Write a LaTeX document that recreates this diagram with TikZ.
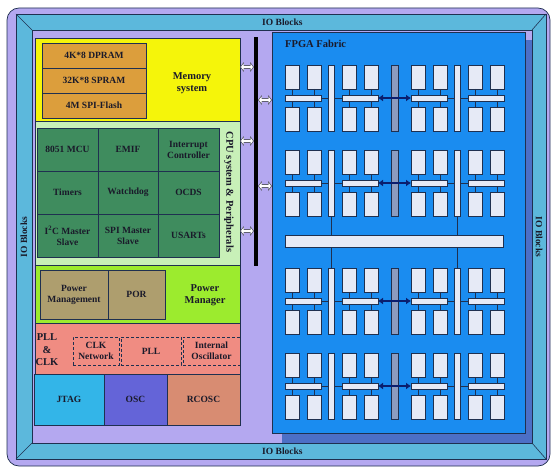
\documentclass[tikz,border=0pt]{standalone}
\usepackage{fontspec}
\setmainfont{Liberation Serif}
\usetikzlibrary{arrows.meta}

\definecolor{lilac}{HTML}{B4A8F0}
\definecolor{band}{HTML}{5CB8DC}
\definecolor{edge}{HTML}{1F3050}
\definecolor{txt}{HTML}{1A1A2A}
\definecolor{yel}{HTML}{F5F50A}
\definecolor{orng}{HTML}{DC9E3C}
\definecolor{ltgrn}{HTML}{C8F0B8}
\definecolor{dkgrn}{HTML}{3F8C5E}
\definecolor{pgrn}{HTML}{9CEB2E}
\definecolor{brwn}{HTML}{AE9E6E}
\definecolor{pinkc}{HTML}{F08C82}
\definecolor{jtagc}{HTML}{33B5E8}
\definecolor{oscc}{HTML}{6464D8}
\definecolor{rcc}{HTML}{D88C72}
\definecolor{fabc}{HTML}{1A8CF0}
\definecolor{fabshadow}{HTML}{4C6FC6}
\definecolor{tilec}{HTML}{E6EAF6}
\definecolor{greybar}{HTML}{8C9CC0}
\definecolor{navy}{HTML}{0A1E6E}
\definecolor{arrgrey}{HTML}{606070}

\newcommand\lblfont{\fontsize{9.5}{11}\selectfont\bfseries}
\newcommand\hdfont{\fontsize{10.5}{12.5}\selectfont\bfseries}

\tikzset{
	sz/.style 2 args={minimum width=#1pt, minimum height=#2pt},
	blk/.style={draw=edge, line width=0.6pt, inner sep=1pt, outer sep=0pt, anchor=north west, align=center, text=txt, font=\lblfont},
	dashbox/.style={blk, dash pattern=on 3pt off 2pt, line width=0.8pt},
	tile/.style={draw=edge, line width=0.7pt, fill=tilec, inner sep=0pt, outer sep=0pt, anchor=north west},
	headtxt/.style={align=center, text=txt, font=\hdfont, inner sep=1pt},
	iotxt/.style={text=txt, font=\lblfont, inner sep=1pt},
	wire/.style={draw=edge, line width=0.5pt},
	ctlarrow/.style={draw=navy, line width=2.2pt, {Latex[length=5pt,width=7pt]}-{Latex[length=5pt,width=7pt]}},
	dblout/.style={draw=arrgrey, line width=4pt, {Triangle[length=3.8pt,width=9.5pt]}-{Triangle[length=3.8pt,width=9.5pt]}},
	dblin/.style={draw=white, line width=2.2pt, shorten <=1.1pt, shorten >=1.1pt, {Triangle[length=2.4pt,width=6.4pt]}-{Triangle[length=2.4pt,width=6.4pt]}}
}

\begin{document}
\begin{tikzpicture}[x=1pt, y=-1pt]
	\useasboundingbox (0,0) rectangle (556,473);

	\draw[edge, line width=0.7pt, fill=lilac, rounded corners=12pt] (7,8) rectangle (550,466);
	\draw[edge, line width=0.6pt, fill=band] (16,14) rectangle (546,459);
	\draw[edge, line width=0.6pt, fill=lilac] (32,30) rectangle (532,443);
	\draw[edge, line width=0.6pt] (16,14) -- (32,30) (546,14) -- (532,30) (16,459) -- (32,443) (546,459) -- (532,443);
	\node[iotxt, anchor=west] (iot) at (261,22) {IO Blocks};
	\node[iotxt, anchor=west] (iob) at (261,451) {IO Blocks};
	\node[iotxt, rotate=90] (iol) at (24,237) {IO Blocks};
	\node[iotxt, rotate=-90] (ior) at (539,237) {IO Blocks};

	\node[blk, fill=yel, sz={205}{83}] (memsys) at (35,38) {};
	\node[blk, fill=orng, sz={104}{25}] (dpram) at (42,43) {4K*8 DPRAM};
	\node[blk, fill=orng, sz={104}{25}] (spram) at (42,68) {32K*8 SPRAM};
	\node[blk, fill=orng, sz={104}{25}] (flash) at (42,93) {4M SPI-Flash};
	\node[headtxt] (memlbl) at (192,83) {Memory\\system};

	\node[blk, fill=ltgrn, sz={205}{144}] (cpusys) at (35,121) {};
	\node[blk, fill=dkgrn, sz={61}{43}] (mcu) at (37,128) {8051 MCU};
	\node[blk, fill=dkgrn, sz={60}{43}] (emif) at (98,128) {EMIF};
	\node[blk, fill=dkgrn, sz={61}{43}] (intc) at (158,128) {Interrupt\\Controller};
	\node[blk, fill=dkgrn, sz={61}{43}] (timers) at (37,171) {Timers};
	\node[blk, fill=dkgrn, sz={60}{43}] (wdog) at (98,171) {Watchdog};
	\node[blk, fill=dkgrn, sz={61}{43}] (ocds) at (158,171) {OCDS};
	\node[blk, fill=dkgrn, sz={61}{43}] (i2c) at (37,214) {I\textsuperscript{2}C Master\\Slave};
	\node[blk, fill=dkgrn, sz={60}{43}] (spi) at (98,214) {SPI Master\\Slave};
	\node[blk, fill=dkgrn, sz={61}{43}] (usart) at (158,214) {USARTs};
	\node[headtxt, rotate=-90] (cpulbl) at (229,192) {CPU system \& Peripherals};

	\node[blk, fill=pgrn, sz={205}{58}] (pwr) at (35,265) {};
	\node[blk, fill=brwn, sz={68}{49}] (pmgmt) at (40,270) {Power\\Management};
	\node[blk, fill=brwn, sz={57}{49}] (por) at (108,270) {POR};
	\node[headtxt] (pwrlbl) at (205,295) {Power\\Manager};

	\node[blk, fill=pinkc, sz={205}{51}] (pllclk) at (35,323) {};
	\node[headtxt] (plllbl) at (47,350) {PLL\\\&\\CLK};
	\node[dashbox, sz={46}{28}] (clknet) at (73,337) {CLK\\Network};
	\node[dashbox, sz={60}{28}] (plld) at (121,337) {PLL};
	\node[dashbox, sz={57}{28}] (osci) at (183,337) {Internal\\Oscillator};

	\node[blk, fill=jtagc, sz={70}{51}] (jtag) at (34,374) {JTAG};
	\node[blk, fill=oscc, sz={63}{51}] (osc) at (104,374) {OSC};
	\node[blk, fill=rcc, sz={73}{51}] (rcosc) at (167,374) {RCOSC};

	\node[fill=black, inner sep=0pt, outer sep=0pt, anchor=north west, sz={4}{229}] (bus) at (254,37) {};

	\fill[fabshadow] (282,40) rectangle (532,443);
	\node[blk, fill=fabc, sz={253}{401}] (fabric) at (272,32) {};
	\node[headtxt, anchor=west] (fablbl) at (284,44) {FPGA Fabric};

	\foreach \ay/\src in {67/memsys,141/cpusys,231/cpusys} {
		\coordinate (p) at (0,\ay);
		\draw[dblout] (\src.east |- p) -- (bus.west |- p);
		\draw[dblin] (\src.east |- p) -- (bus.west |- p);
	}
	\foreach \ay in {100,186} {
		\coordinate (p) at (0,\ay);
		\draw[dblout] (bus.east |- p) -- (fabric.west |- p);
		\draw[dblin] (bus.east |- p) -- (fabric.west |- p);
	}

	\foreach \gy [count=\g] in {65,150,268,353} {
		\foreach \cx [count=\c] in {285,342,411,468} {
			\node[tile, sz={14}{24}] (tl-\g-\c) at (\cx,\gy) {};
			\node[tile, sz={14}{24}] (tr-\g-\c) at (\cx+22,\gy) {};
			\node[tile, sz={36}{6}] (hb-\g-\c) at (\cx,\gy+30) {};
			\node[tile, sz={14}{24}] (bl-\g-\c) at (\cx,\gy+42) {};
			\node[tile, sz={14}{24}] (br-\g-\c) at (\cx+22,\gy+42) {};
			\draw[wire] (tl-\g-\c.south) -- (tl-\g-\c.south |- hb-\g-\c.north)
				(tr-\g-\c.south) -- (tr-\g-\c.south |- hb-\g-\c.north)
				(bl-\g-\c.north) -- (bl-\g-\c.north |- hb-\g-\c.south)
				(br-\g-\c.north) -- (br-\g-\c.north |- hb-\g-\c.south);
		}
		\node[tile, sz={6}{66}] (vl-\g) at (328,\gy) {};
		\node[tile, fill=greybar, sz={7}{66}] (vm-\g) at (391,\gy) {};
		\node[tile, sz={6}{66}] (vr-\g) at (454,\gy) {};
		\draw[wire] (hb-\g-1.east) -- (hb-\g-1.east -| vl-\g.west)
			(vl-\g.east |- hb-\g-2.west) -- (hb-\g-2.west)
			(hb-\g-3.east) -- (hb-\g-3.east -| vr-\g.west)
			(vr-\g.east |- hb-\g-4.west) -- (hb-\g-4.west);
		\draw[ctlarrow] (hb-\g-2.east) -- (hb-\g-3.west);
	}

	\node[tile, sz={218}{12}] (wide) at (285,235) {};
	\draw[wire] (vl-2.south) -- (vl-2.south |- wide.north)
		(vr-2.south) -- (vr-2.south |- wide.north)
		(vl-3.north) -- (vl-3.north |- wide.south)
		(vr-3.north) -- (vr-3.north |- wide.south);
\end{tikzpicture}
\end{document}
